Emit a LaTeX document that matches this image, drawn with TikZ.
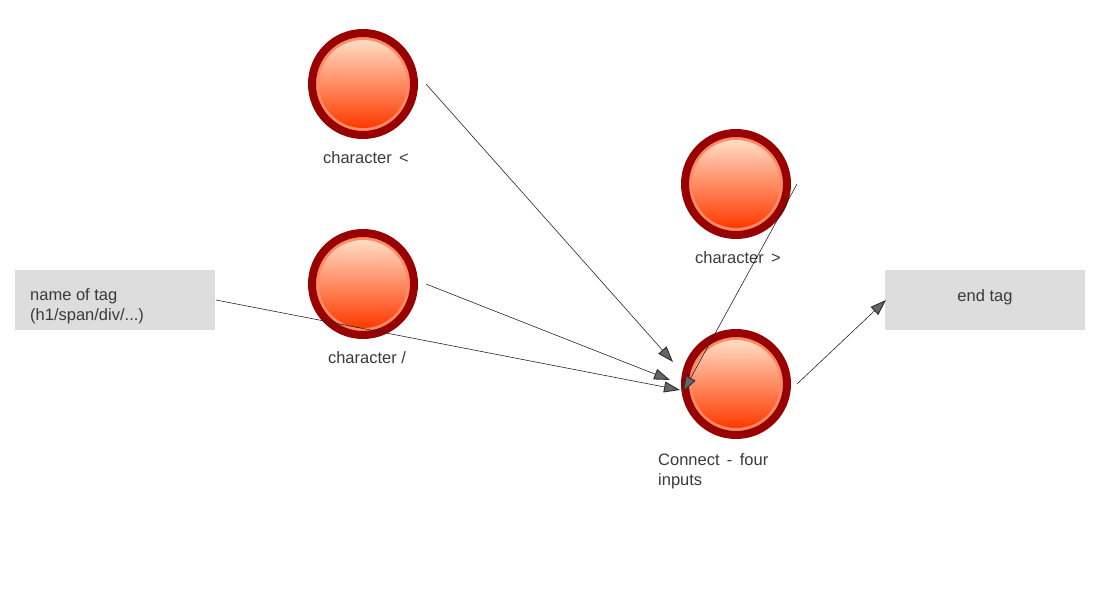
\documentclass[tikz,border=0pt]{standalone}
\usepackage{fontspec}
\setmainfont{Liberation Sans}
\usetikzlibrary{arrows.meta}
\definecolor{ringred}{HTML}{990000}
\definecolor{rimor}{HTML}{FF8A66}
\definecolor{topor}{HTML}{FFDCC4}
\definecolor{midor}{HTML}{FF8050}
\definecolor{botor}{HTML}{FF3A00}
\definecolor{boxgray}{HTML}{DDDDDD}
\definecolor{txt}{HTML}{3A3A3A}
\begin{document}
\begin{tikzpicture}[x=1pt,y=-1pt,
  ball/.style={circle, minimum size=102pt, inner sep=0pt, draw=ringred, line width=8pt,
    path picture={
      \fill[rimor] (path picture bounding box.center) circle (48pt);
      \shade[top color=topor, middle color=midor, bottom color=botor]
        (path picture bounding box.center) circle (44pt);
    }},
  lbl/.style={font=\fontsize{16.5}{20}\selectfont, text=txt, inner sep=0pt},
  gbox/.style={fill=boxgray, minimum width=200pt, minimum height=60pt, inner sep=0pt},
  conn/.style={draw=black!85, line width=0.6pt,
    -{Triangle[length=16pt, width=11pt, line width=1pt, fill=black!60, color=black!80]}},
]
\useasboundingbox (0,0) rectangle (1100,600);

\node[ball] (c1) at (363,84) {};
\node[ball] (c2) at (363,284) {};
\node[ball] (c3) at (736,184) {};
\node[ball] (c4) at (736,384) {};

\node[lbl] (l1) at (366,158) {character \,<};
\node[lbl] (l2) at (367,358) {character /};
\node[lbl] (l3) at (738,258) {character \,>};
\node[lbl, align=left, anchor=north west] (l4) at (658,453) {Connect \,- \,four\\inputs};

\node[gbox] (bname) at (115,300) {};
\node[lbl, align=left, anchor=north west] (tname) at (30,288) {name of tag\\(h1/span/div/...)};
\node[gbox] (bend) at (985,300) {};
\node[lbl] (tend) at (985,297) {end tag};

\coordinate (p1) at (426,84);
\coordinate (p2) at (426,284);
\coordinate (p3) at (797,184);
\coordinate (p4) at (797,384);
\coordinate (q1) at (673,362);
\coordinate (q2) at (670,380);
\coordinate (q3) at (680,390);
\coordinate (q4) at (683,392);
\coordinate (pb) at (216,300);
\coordinate (qe) at (886,300);

\draw[conn] (p1) -- (q1);
\draw[conn] (p2) -- (q2);
\draw[conn] (pb) -- (q3);
\draw[conn] (p3) -- (q4);
\draw[conn] (p4) -- (qe);
\end{tikzpicture}
\end{document}
